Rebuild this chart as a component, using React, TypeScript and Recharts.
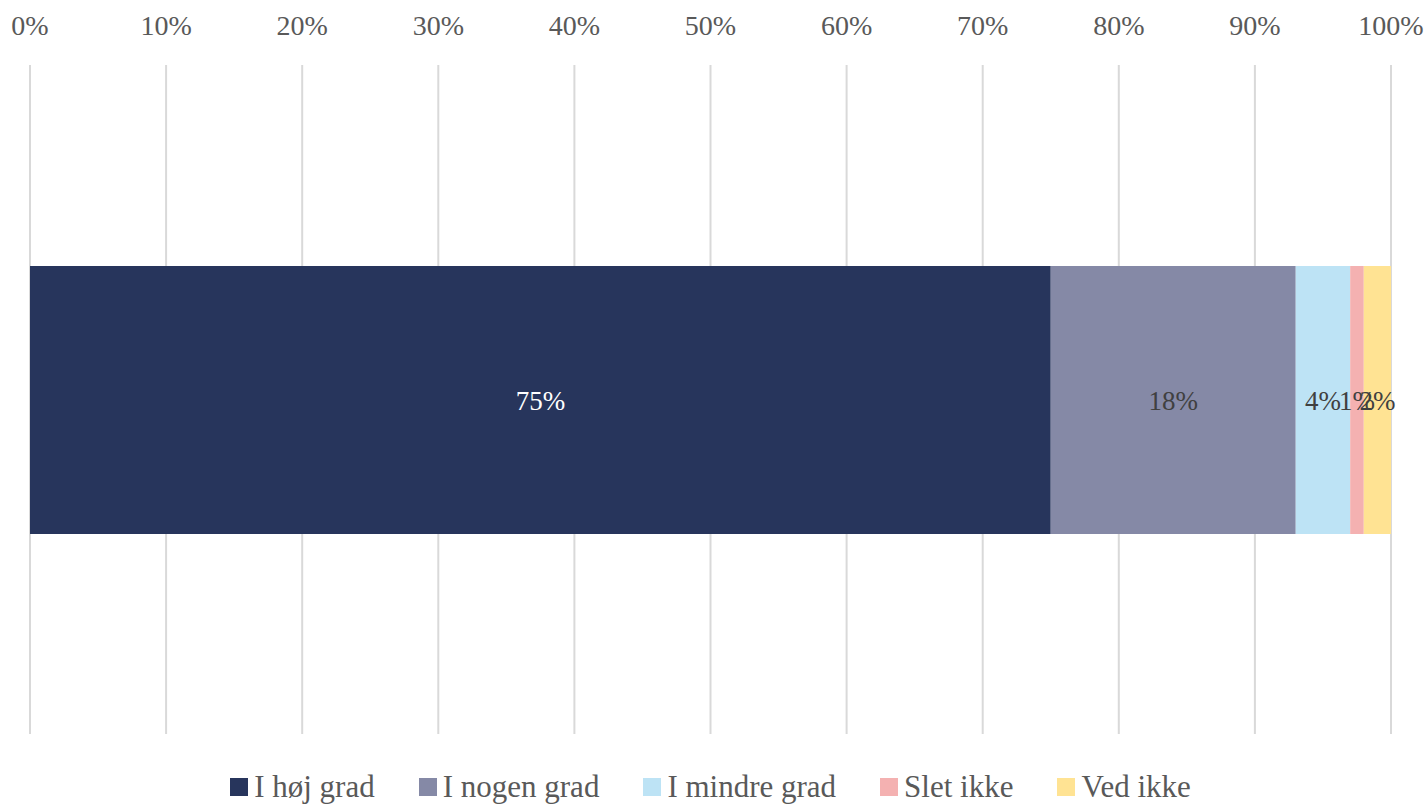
import { BarChart, Bar, XAxis, YAxis, CartesianGrid, Legend, LabelList } from 'recharts';

const categories = ['Svar'];
const seriesNames = ['I høj grad', 'I nogen grad', 'I mindre grad', 'Slet ikke', 'Ved ikke'];
const seriesValues = [75, 18, 4, 1, 2];
const seriesColors = ['#27355c', '#8589a6', '#bde3f5', '#f4b1b1', '#ffe393'];
const labelColors = ['#ffffff', '#404040', '#404040', '#404040', '#404040'];
const xTicks = [0, 10, 20, 30, 40, 50, 60, 70, 80, 90, 100];

const FONT = '"Liberation Serif", "DejaVu Serif", serif';

const data = categories.map((c) => {
  const row: Record<string, string | number> = { name: c };
  seriesNames.forEach((s, i) => {
    row[s] = seriesValues[i];
  });
  return row;
});

function LegendContent() {
  return (
    <div
      style={{
        height: 73,
        boxSizing: 'border-box',
        paddingTop: 32,
        display: 'flex',
        justifyContent: 'center',
        alignItems: 'center',
        gap: 44,
        fontFamily: FONT,
        fontSize: 31,
        lineHeight: '34px',
        color: '#595959',
      }}
    >
      {seriesNames.map((s, i) => (
        <div key={s} style={{ display: 'flex', alignItems: 'center' }}>
          <span style={{ width: 18, height: 18, background: seriesColors[i], marginRight: 6, display: 'inline-block' }} />
          <span>{s}</span>
        </div>
      ))}
    </div>
  );
}

export default function App() {
  return (
    <div style={{ position: 'absolute', left: 0, top: 0, width: 1425, height: 807, background: '#fff' }}>
      <BarChart
        width={1425}
        height={807}
        data={data}
        layout="vertical"
        margin={{ top: 0, right: 34, left: 30, bottom: 0 }}
      >
        <CartesianGrid vertical horizontal={false} stroke="#d9d9d9" strokeWidth={2} />
        <XAxis
          type="number"
          orientation="top"
          domain={[0, 100]}
          ticks={xTicks}
          tickFormatter={(v) => `${v}%`}
          axisLine={false}
          tickLine={false}
          height={65}
          tickMargin={24}
          tick={{ fill: '#595959', fontSize: 28, fontFamily: FONT }}
          interval={0}
        />
        <YAxis type="category" dataKey="name" hide width={0} />
        <Legend verticalAlign="bottom" height={73} content={LegendContent} />
        {seriesNames.map((s, i) => (
          <Bar key={s} dataKey={s} stackId="a" fill={seriesColors[i]} barSize={268} isAnimationActive={false}>
            <LabelList
              dataKey={s}
              position="center"
              formatter={(v: number) => `${v}%`}
              fill={labelColors[i]}
              style={{ fontSize: 27, fontFamily: FONT }}
            />
          </Bar>
        ))}
      </BarChart>
    </div>
  );
}
